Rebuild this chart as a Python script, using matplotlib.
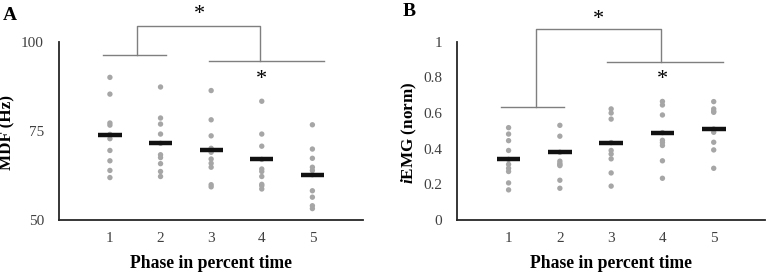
import matplotlib
matplotlib.use("Agg")
import matplotlib.pyplot as plt

plt.rcParams['font.family'] = ['Liberation Serif', 'DejaVu Serif']
plt.rcParams['mathtext.fontset'] = 'custom'
plt.rcParams['mathtext.it'] = 'Liberation Serif:italic:bold'
plt.rcParams['mathtext.rm'] = 'Liberation Serif:bold'

phases = [1, 2, 3, 4, 5]
phase_labels = ["1", "2", "3", "4", "5"]

# Panel A: MDF (Hz)
mdf_p1 = [90.0, 85.3, 77.2, 76.6, 74.0, 72.8, 69.5, 66.6, 63.9, 61.9]
mdf_p2 = [87.3, 78.6, 76.9, 74.1, 71.5, 68.3, 67.5, 65.8, 63.6, 62.2]
mdf_p3 = [86.3, 78.1, 73.6, 70.1, 69.0, 67.1, 65.9, 64.8, 59.9, 59.3]
mdf_p4 = [83.3, 74.1, 70.7, 67.0, 64.3, 63.6, 62.2, 60.0, 59.6, 58.7]
mdf_p5 = [76.7, 69.9, 67.3, 64.8, 63.9, 62.7, 58.2, 56.4, 54.0, 53.2]
mdf_means = [73.8, 71.7, 69.5, 67.1, 62.7]
mdf_ticks = [50, 75, 100]

# Panel B: iEMG (norm)
iemg_p1 = [0.518, 0.482, 0.445, 0.390, 0.340, 0.312, 0.290, 0.272, 0.208, 0.169]
iemg_p2 = [0.531, 0.470, 0.380, 0.330, 0.318, 0.310, 0.305, 0.223, 0.178]
iemg_p3 = [0.623, 0.600, 0.566, 0.434, 0.390, 0.370, 0.343, 0.264, 0.190]
iemg_p4 = [0.665, 0.645, 0.589, 0.490, 0.447, 0.434, 0.418, 0.332, 0.234]
iemg_p5 = [0.664, 0.623, 0.610, 0.604, 0.510, 0.492, 0.436, 0.393, 0.290]
iemg_means = [0.342, 0.380, 0.434, 0.488, 0.512]
iemg_ticks = [0, 0.2, 0.4, 0.6, 0.8, 1]
iemg_ticklabels = ["0", "0.2", "0.4", "0.6", "0.8", "1"]

DOT = "#a6a6a6"
BRK = "#7f7f7f"
TICKC = "#404040"

fig = plt.figure(figsize=(7.68, 2.74), dpi=100)
axA = fig.add_axes([59.3/768, 1-220/274, (363-59.3)/768, (220-41.7)/274])
axB = fig.add_axes([457.3/768, 1-220/274, (765-457.3)/768, (220-41.7)/274])


def draw(ax, groups, means, ylim, yticks, yticklabels, ylabel, ylab_x, brackets, stars):
    for x, vals in zip(phases, groups):
        ax.scatter([x]*len(vals), vals, s=15, color=DOT, edgecolors='none', zorder=2, clip_on=False)
    ax.hlines(means, [p - 0.23 for p in phases], [p + 0.23 for p in phases],
              colors='#111111', linewidth=3.2, zorder=3)
    ax.set_xlim(0, 6)
    ax.set_ylim(*ylim)
    ax.set_xticks(phases)
    ax.set_xticklabels(phase_labels)
    ax.set_yticks(yticks)
    ax.set_yticklabels(yticklabels)
    ax.tick_params(length=0, labelsize=11, labelcolor=TICKC)
    ax.tick_params(axis='y', pad=11)
    ax.tick_params(axis='x', pad=9)
    for s in ['top', 'right']:
        ax.spines[s].set_visible(False)
    for s in ['left', 'bottom']:
        ax.spines[s].set_color('#262626')
        ax.spines[s].set_linewidth(1.3)
    ax.set_xlabel("Phase in percent time", fontsize=12.7, fontweight='bold', labelpad=7)
    ax.set_ylabel(ylabel, fontsize=12.3, fontweight='bold')
    ax.yaxis.set_label_coords(ylab_x, 0.49)
    (l1, l2, ly), (r1, r2, ry), (v1, v2, top) = brackets
    kw = dict(color=BRK, linewidth=1.0, clip_on=False, zorder=1)
    ax.plot([l1, l2], [ly, ly], **kw)
    ax.plot([r1, r2], [ry, ry], **kw)
    ax.plot([v1, v1, v2, v2], [ly, top, top, ry], **kw)
    for (sx, sy) in stars:
        ax.text(sx, sy, "*", fontsize=16, ha='center', va='center', clip_on=False)


draw(axA, [mdf_p1, mdf_p2, mdf_p3, mdf_p4, mdf_p5], mdf_means, (50, 100),
     mdf_ticks, [str(t) for t in mdf_ticks], "MDF (Hz)", -0.146,
     [(0.86, 2.10, 96.3), (2.95, 5.22, 94.7), (1.54, 3.97, 104.3)],
     [(2.76, 107.5), (3.99, 89.3)])
draw(axB, [iemg_p1, iemg_p2, iemg_p3, iemg_p4, iemg_p5], iemg_means, (0, 1),
     iemg_ticks, iemg_ticklabels, "$\\mathit{i}$EMG (norm)", -0.124,
     [(0.85, 2.08, 0.634), (2.92, 5.19, 0.885), (1.54, 3.98, 1.07)],
     [(2.76, 1.125), (4.0, 0.79)])

fig.text(3/768, 1-15/274, "A", fontsize=14, fontweight='bold', va='center', ha='left')
fig.text(409/768, 1-12/274, "B", fontsize=14, fontweight='bold', va='center', ha='center')

fig.savefig("out.png", dpi=100)
